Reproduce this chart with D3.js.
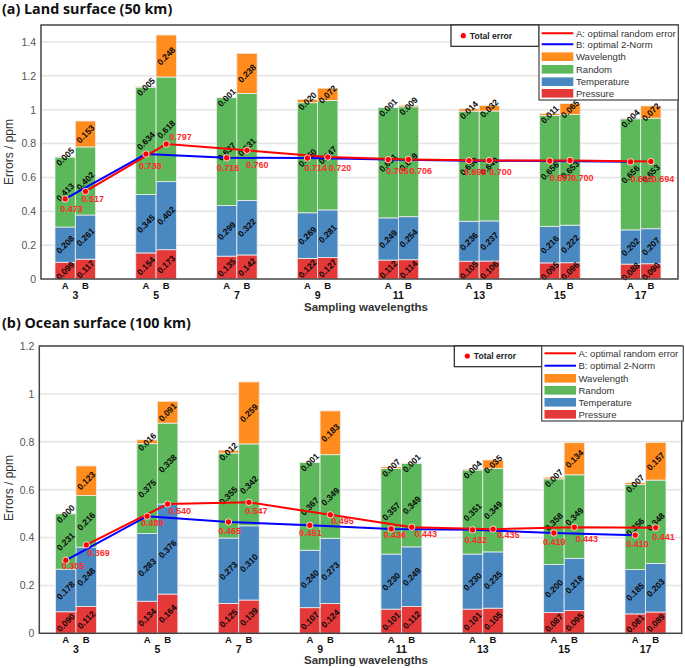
<!DOCTYPE html>
<html><head><meta charset="utf-8">
<script src="https://cdn.jsdelivr.net/npm/d3@7"></script>
<style>body{margin:0;background:#fff}svg{display:block}</style>
</head><body>
<svg id="chart" width="685" height="668"></svg>
<script>
// ---------- DATA ----------
const groups = ["3","5","7","9","11","13","15","17"];
const configs = ["A","B"];
const components = ["Pressure","Temperature","Random","Wavelength"];

const landPressureA = [0.099,0.154,0.135,0.122,0.112,0.105,0.095,0.088];
const landPressureB = [0.117,0.173,0.142,0.127,0.114,0.106,0.096,0.090];
const landTempA     = [0.208,0.345,0.299,0.269,0.249,0.236,0.216,0.202];
const landTempB     = [0.261,0.402,0.322,0.281,0.254,0.237,0.222,0.207];
const landRandomA   = [0.413,0.634,0.637,0.650,0.651,0.650,0.656,0.656];
const landRandomB   = [0.402,0.618,0.631,0.647,0.649,0.649,0.653,0.653];
const landWaveA     = [0.005,0.005,0.001,0.020,0.001,0.014,0.011,0.004];
const landWaveB     = [0.153,0.248,0.238,0.072,0.009,0.032,0.065,0.072];
const landTotalA    = [0.473,0.738,0.716,0.714,0.705,0.699,0.697,0.692];
const landTotalB    = [0.517,0.797,0.760,0.720,0.706,0.700,0.700,0.694];

const oceanPressureA = [0.090,0.134,0.125,0.107,0.101,0.101,0.087,0.081];
const oceanPressureB = [0.112,0.164,0.139,0.124,0.112,0.105,0.095,0.089];
const oceanTempA     = [0.178,0.283,0.273,0.240,0.230,0.230,0.200,0.185];
const oceanTempB     = [0.248,0.376,0.310,0.273,0.249,0.235,0.218,0.203];
const oceanRandomA   = [0.231,0.375,0.355,0.367,0.357,0.351,0.358,0.356];
const oceanRandomB   = [0.216,0.338,0.342,0.349,0.349,0.349,0.349,0.348];
const oceanWaveA     = [0.000,0.016,0.012,0.001,0.007,0.004,0.007,0.007];
const oceanWaveB     = [0.123,0.091,0.259,0.183,0.001,0.035,0.134,0.157];
const oceanTotalA    = [0.305,0.489,0.465,0.451,0.436,0.432,0.419,0.410];
const oceanTotalB    = [0.369,0.540,0.547,0.495,0.443,0.435,0.443,0.441];

const landTicks  = [0,0.2,0.4,0.6,0.8,1,1.2,1.4];
const oceanTicks = [0,0.2,0.4,0.6,0.8,1,1.2];

// ---------- LAYOUT / STYLE ----------
const colors = {Pressure:"#e53838", Temperature:"#4a88c2", Random:"#5db85b", Wavelength:"#ff8c1c"};
const FONT = "'Liberation Sans', Arial, sans-serif";

// per-point offsets for total-error labels [dx, dy] (A then B per group)
const landLabelShift = [[-5,9.5],[-4,7],[-7,12],[3,-7.3],[-10,10],[-1,14.7],[-3,10],[1,10.7],
  [-2,11],[1,11],[-5,11.6],[0,11.6],[0,17.3],[1,17.3],[0,17.3],[1,17.3]];
const oceanLabelShift = [[-4,6],[1,8],[-6,6.7],[1,6.7],[-10,9.3],[-4,9],[-10.7,8],[1,6.3],
  [-7.7,5.7],[2.7,7],[-8,9.6],[4,6],[-11,9],[1,11.3],[-9,8.7],[-3.6,9.3]];

const panels = [
  {title:"(a) Land surface (50 km)", titleY:14, left:41, top:25, right:678, bottom:279, yMax:1.5,
   ticks:landTicks, c0:75.3, c1:640.7, barW:20.3, yLabelY:152, abY:289, grpY:299, xTitleY:311,
   P:[landPressureA,landPressureB], T:[landTempA,landTempB], R:[landRandomA,landRandomB], W:[landWaveA,landWaveB],
   tot:[landTotalA,landTotalB], shift:landLabelShift,
   leg:{tb:[451,25,539,46.3], dotX:463.3, dotY:35.7, mb:[539,25,678.3,100], sx0:541.7, sx1:573.3, tx:576,
        ys:[33.3,44.3,56.7,69.3,81.7,93.3]}},
  {title:"(b) Ocean surface (100 km)", titleY:328, left:39.3, top:346, right:681.7, bottom:633.3, yMax:1.2,
   ticks:oceanTicks, c0:76, c1:645.5, barW:20.5, yLabelY:488, abY:643, grpY:653, xTitleY:664,
   P:[oceanPressureA,oceanPressureB], T:[oceanTempA,oceanTempB], R:[oceanRandomA,oceanRandomB], W:[oceanWaveA,oceanWaveB],
   tot:[oceanTotalA,oceanTotalB], shift:oceanLabelShift,
   leg:{tb:[454.3,346,541.7,366.7], dotX:467.3, dotY:356, mb:[541.7,346,683.3,421], sx0:544.5,sx1:576, tx:578.5,
        ys:[353.3,365.7,378.3,390.3,402.3,414.3]}}
];

const svg = d3.select("#chart");

function drawPanel(p){
  const g = svg.append("g");
  const y = d3.scaleLinear().domain([0,p.yMax]).range([p.bottom,p.top]);
  const xg = d3.scalePoint().domain(groups).range([p.c0,p.c1]);
  const xs = d3.scaleBand().domain(configs).range([-p.barW,p.barW]);
  const cx = (grp,cfg) => xg(grp)+xs(cfg)+xs.bandwidth()/2;

  // title
  g.append("text").attr("x",2).attr("y",p.titleY).text(p.title)
    .attr("font-family","'Open Sans', sans-serif").attr("font-weight","bold").attr("font-size",14.3).attr("fill","#111");

  // grid
  g.append("g").selectAll("line").data(p.ticks.filter(d=>d>0)).join("line")
    .attr("x1",p.left).attr("x2",p.right).attr("y1",d=>y(d)).attr("y2",d=>y(d))
    .attr("stroke","#e4e4e4").attr("stroke-width",1.5);

  // y axis
  const ax = g.append("g").attr("transform",`translate(${p.left},0)`)
    .call(d3.axisLeft(y).tickValues(p.ticks).tickSize(0).tickPadding(5).tickFormat(d3.format("~g")));
  ax.select(".domain").remove();
  ax.selectAll("text").attr("font-family",FONT).attr("font-size",10.5).attr("fill","#555");

  g.append("text").attr("transform",`translate(13,${p.yLabelY}) rotate(-90)`).attr("text-anchor","middle")
    .attr("font-family",FONT).attr("font-size",12).attr("fill","#333").text("Errors / ppm");

  // rows
  const rows = [];
  groups.forEach((grp,i)=>configs.forEach((cfg,j)=>{
    rows.push({grp,cfg,Pressure:p.P[j][i],Temperature:p.T[j][i],Random:p.R[j][i],Wavelength:p.W[j][i],total:p.tot[j][i]});
  }));
  const stacked = d3.stack().keys(components)(rows);

  const bars = g.append("g");
  stacked.forEach(layer=>{
    bars.append("g").selectAll("rect").data(layer).join("rect")
      .attr("x",d=>xg(d.data.grp)+xs(d.data.cfg)).attr("width",xs.bandwidth())
      .attr("y",d=>y(d[1])).attr("height",d=>y(d[0])-y(d[1]))
      .attr("fill",colors[layer.key]).attr("stroke","#eeeeee").attr("stroke-width",0.8);
  });
  const fmt = d3.format(".3f");
  stacked.forEach(layer=>{
    bars.append("g").selectAll("text").data(layer).join("text")
      .attr("transform",d=>`translate(${cx(d.data.grp,d.data.cfg)},${y((d[0]+d[1])/2)}) rotate(-45)`)
      .attr("text-anchor","middle").attr("dy","0.35em")
      .attr("font-family",FONT).attr("font-size",8.6).attr("font-weight","bold").attr("fill","#0a0a0a")
      .text(d=>fmt(d[1]-d[0]));
  });

  // frame
  g.append("rect").attr("x",p.left).attr("y",p.top).attr("width",p.right-p.left).attr("height",p.bottom-p.top)
    .attr("fill","none").attr("stroke","#444").attr("stroke-width",1.5);

  // lines
  const line = d3.line().x(d=>cx(d.grp,d.cfg)).y(d=>y(d.total));
  g.append("path").datum(rows.filter(d=>d.cfg==="A")).attr("d",line).attr("fill","none").attr("stroke","#0000ff").attr("stroke-width",2);
  g.append("path").datum(rows.filter(d=>d.cfg==="B")).attr("d",line).attr("fill","none").attr("stroke","#ff0000").attr("stroke-width",2);
  g.append("g").selectAll("circle").data(rows).join("circle")
    .attr("cx",d=>cx(d.grp,d.cfg)).attr("cy",d=>y(d.total)).attr("r",3.2)
    .attr("fill","#ff0000").attr("stroke","#fff").attr("stroke-width",0.8);
  g.append("g").selectAll("text").data(rows).join("text")
    .attr("x",(d,i)=>cx(d.grp,d.cfg)+p.shift[i][0]).attr("y",(d,i)=>y(d.total)+p.shift[i][1])
    .attr("dy","0.35em").attr("font-family",FONT).attr("font-size",9).attr("font-weight","bold")
    .attr("fill","#ff2a2a").text(d=>fmt(d.total));

  // x labels
  g.append("g").selectAll("text").data(rows).join("text")
    .attr("x",d=>cx(d.grp,d.cfg)).attr("y",p.abY).attr("text-anchor","middle")
    .attr("font-family",FONT).attr("font-weight","bold").attr("font-size",9.5).attr("fill","#111").text(d=>d.cfg);
  g.append("g").selectAll("text").data(groups).join("text")
    .attr("x",d=>xg(d)).attr("y",p.grpY).attr("text-anchor","middle")
    .attr("font-family",FONT).attr("font-weight","bold").attr("font-size",10.5).attr("fill","#111").text(d=>d);
  g.append("text").attr("x",366).attr("y",p.xTitleY).attr("text-anchor","middle")
    .attr("font-family",FONT).attr("font-weight","bold").attr("font-size",11.5).attr("fill","#333").text("Sampling wavelengths");

  // legend
  const L = p.leg;
  g.append("rect").attr("x",L.tb[0]).attr("y",L.tb[1]).attr("width",L.tb[2]-L.tb[0]).attr("height",L.tb[3]-L.tb[1])
    .attr("fill","#fff").attr("stroke","#222").attr("stroke-width",1.2);
  g.append("circle").attr("cx",L.dotX).attr("cy",L.dotY).attr("r",2.6).attr("fill","#ff0000");
  g.append("text").attr("x",L.dotX+6.5).attr("y",L.dotY).attr("dy","0.35em").attr("font-family",FONT)
    .attr("font-weight","bold").attr("font-size",8.6).attr("fill","#222").text("Total error");
  g.append("rect").attr("x",L.mb[0]).attr("y",L.mb[1]).attr("width",L.mb[2]-L.mb[0]).attr("height",L.mb[3]-L.mb[1])
    .attr("fill","#fff").attr("stroke","#444").attr("stroke-width",1.2);
  const items = [
    {t:"line",c:"#ff0000",label:"A: optimal random error"},
    {t:"line",c:"#0000ff",label:"B: optimal 2-Norm"},
    {t:"rect",c:colors.Wavelength,label:"Wavelength"},
    {t:"rect",c:colors.Random,label:"Random"},
    {t:"rect",c:colors.Temperature,label:"Temperature"},
    {t:"rect",c:colors.Pressure,label:"Pressure"}];
  items.forEach((it,k)=>{
    const yy = L.ys[k];
    if(it.t==="line") g.append("line").attr("x1",L.sx0).attr("x2",L.sx1).attr("y1",yy).attr("y2",yy).attr("stroke",it.c).attr("stroke-width",2);
    else g.append("rect").attr("x",L.sx0).attr("y",yy-4.3).attr("width",L.sx1-L.sx0).attr("height",8.6).attr("fill",it.c);
    g.append("text").attr("x",L.tx).attr("y",yy).attr("dy","0.35em").attr("font-family",FONT)
      .attr("font-size",9.5).attr("fill","#333").text(it.label);
  });
}
panels.forEach(drawPanel);
</script>
</body></html>
